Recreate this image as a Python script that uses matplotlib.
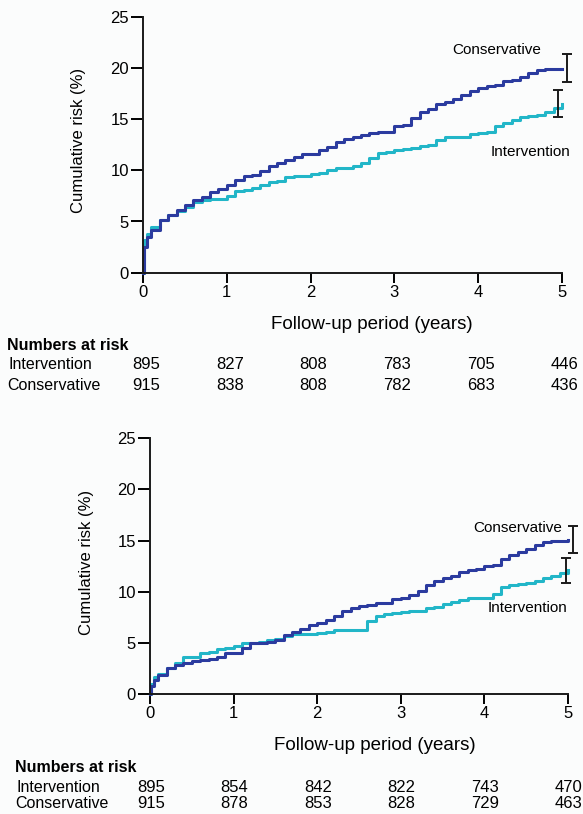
import numpy as np
import matplotlib
matplotlib.use("Agg")
import matplotlib.pyplot as plt
from matplotlib.transforms import blended_transform_factory

plt.rcParams["font.family"] = ["Liberation Sans", "DejaVu Sans"]
plt.rcParams["font.size"] = 11

# follow-up times (years)
t = [0, 0.01, 0.05] + [round(0.1 * k, 1) for k in range(1, 51)]

# panel A cumulative risk (%)
a_cons = [0, 2.5, 3.5,
          4.2, 5.1, 5.6, 6.1, 6.6, 7.1, 7.4, 7.9, 8.2, 8.6,
          9.1, 9.4, 9.5, 9.9, 10.4, 10.7, 11.0, 11.3, 11.6, 11.6,
          12.0, 12.3, 12.8, 13.1, 13.3, 13.4, 13.6, 13.7, 13.7, 14.3,
          14.4, 15.1, 15.7, 16.0, 16.5, 16.7, 17.0, 17.4, 17.7, 18.0,
          18.2, 18.3, 18.7, 18.8, 19.1, 19.5, 19.8, 19.9, 19.9, 19.9]
a_int = [0, 3.2, 3.8,
         4.5, 5.1, 5.6, 6.0, 6.4, 6.9, 7.1, 7.2, 7.2, 7.5,
         8.0, 8.1, 8.3, 8.6, 8.9, 9.0, 9.3, 9.4, 9.4, 9.6,
         9.7, 10.0, 10.2, 10.2, 10.4, 10.7, 11.2, 11.7, 11.8, 12.0,
         12.1, 12.2, 12.4, 12.5, 13.0, 13.3, 13.3, 13.3, 13.5, 13.6,
         13.7, 14.3, 14.6, 14.9, 15.2, 15.3, 15.4, 15.7, 16.1, 16.5]

# panel B cumulative risk (%)
b_cons = [0, 0.8, 1.4,
          1.9, 2.5, 2.8, 3.0, 3.2, 3.3, 3.4, 3.65, 4.0, 4.0,
          4.5, 5.0, 5.0, 5.1, 5.3, 5.8, 6.1, 6.4, 6.7, 6.9,
          7.2, 7.6, 8.1, 8.4, 8.6, 8.7, 8.9, 8.9, 9.3, 9.4,
          9.7, 10.1, 10.7, 11.0, 11.3, 11.5, 11.9, 12.1, 12.2, 12.5,
          12.6, 13.2, 13.6, 13.9, 14.2, 14.6, 14.9, 15.0, 15.0, 15.1]
b_int = [0, 1.0, 1.7,
         2.0, 2.5, 3.0, 3.6, 3.65, 4.0, 4.1, 4.4, 4.5, 4.7,
         5.0, 5.0, 5.1, 5.3, 5.4, 5.7, 5.9, 5.9, 5.9, 6.0,
         6.1, 6.25, 6.25, 6.3, 6.3, 7.1, 7.6, 7.8, 7.95, 8.05,
         8.15, 8.15, 8.4, 8.5, 8.8, 9.0, 9.2, 9.35, 9.35, 9.35,
         9.8, 10.5, 10.7, 10.8, 10.9, 11.05, 11.3, 11.5, 11.8, 12.1]

# end-of-follow-up confidence intervals: (time, low, high)
a_cons_ci = (5.06, 18.6, 21.4)
a_int_ci = (4.95, 15.2, 17.8)
b_cons_ci = (5.06, 13.8, 16.4)
b_int_ci = (4.98, 10.9, 13.3)

# numbers at risk at years 0..5
years = [0, 1, 2, 3, 4, 5]
a_risk_int = [895, 827, 808, 783, 705, 446]
a_risk_cons = [915, 838, 808, 782, 683, 436]
b_risk_int = [895, 854, 842, 822, 743, 470]
b_risk_cons = [915, 878, 853, 828, 729, 463]

DARK = "#2b3b9f"
CYAN = "#22b6c8"
W, H = 583, 814

fig = plt.figure(figsize=(W / 100, H / 100), dpi=100, facecolor="#fbfcfc")


def panel(rect, cons, inter, cons_ci, int_ci, cons_lab, int_lab, xlab_x):
    ax = fig.add_axes(rect)
    ax.set_facecolor("none")
    ax.plot(t, inter, drawstyle="steps-post", color=CYAN, lw=2.2, clip_on=False)
    ax.plot(t, cons, drawstyle="steps-post", color=DARK, lw=2.2, clip_on=False)
    for ci in (cons_ci, int_ci):
        ax.errorbar([ci[0]], [(ci[1] + ci[2]) / 2],
                    yerr=[[(ci[2] - ci[1]) / 2]], fmt="none",
                    ecolor="#1a1a1a", elinewidth=1.4, capsize=3.5,
                    capthick=1.4, clip_on=False)
    ax.text(cons_lab[0], cons_lab[1], "Conservative", ha="center", va="center", fontsize=11)
    ax.text(int_lab[0], int_lab[1], "Intervention", ha="center", va="center", fontsize=11)
    ax.set_xlim(0, 5)
    ax.set_ylim(0, 25)
    ax.set_xticks(range(6))
    ax.set_yticks(range(0, 26, 5))
    for s in ("top", "right"):
        ax.spines[s].set_visible(False)
    for s in ("left", "bottom"):
        ax.spines[s].set_linewidth(1.4)
        ax.spines[s].set_color("#1a1a1a")
    ax.tick_params(axis="y", length=9, width=1.4, pad=1, labelsize=12)
    ax.tick_params(axis="x", length=7, width=1.4, pad=2, labelsize=12)
    ax.set_xlabel("Follow-up period (years)", fontsize=13.5)
    ax.xaxis.set_label_coords(xlab_x, -0.17)
    ax.set_ylabel("Cumulative risk (%)", fontsize=12)
    ax.yaxis.set_label_coords(-0.135, 0.515)
    return ax


ax_a = panel([143 / W, 1 - 272.7 / H, 419 / W, 256 / H], a_cons, a_int,
             a_cons_ci, a_int_ci, (4.22, 21.7), (4.62, 11.8), 0.545)
ax_b = panel([150 / W, 1 - 694 / H, 418 / W, 255.7 / H], b_cons, b_int,
             b_cons_ci, b_int_ci, (4.40, 16.2), (4.52, 8.4), 0.538)


def risk_table(ax, y_head, y1, y2, x_lab, r_int, r_cons, shift):
    fig.text(x_lab / W, 1 - y_head / H, "Numbers at risk", fontweight="bold",
             fontsize=11.5, va="center")
    fig.text(x_lab / W + 0.003, 1 - y1 / H, "Intervention", fontsize=11.5, va="center")
    fig.text(x_lab / W, 1 - y2 / H, "Conservative", fontsize=11.5, va="center")
    tr = blended_transform_factory(ax.transData, fig.transFigure)
    for yr, a, b in zip(years, r_int, r_cons):
        ax.text(yr + shift, 1 - y1 / H, str(a), transform=tr, ha="center",
                va="center", fontsize=12, clip_on=False)
        ax.text(yr + shift, 1 - y2 / H, str(b), transform=tr, ha="center",
                va="center", fontsize=12, clip_on=False)


risk_table(ax_a, 345, 365, 385, 7, a_risk_int, a_risk_cons, 0.035)
risk_table(ax_b, 767, 787, 804, 15, b_risk_int, b_risk_cons, 0.01)

fig.savefig("out.png", dpi=100, facecolor=fig.get_facecolor())
